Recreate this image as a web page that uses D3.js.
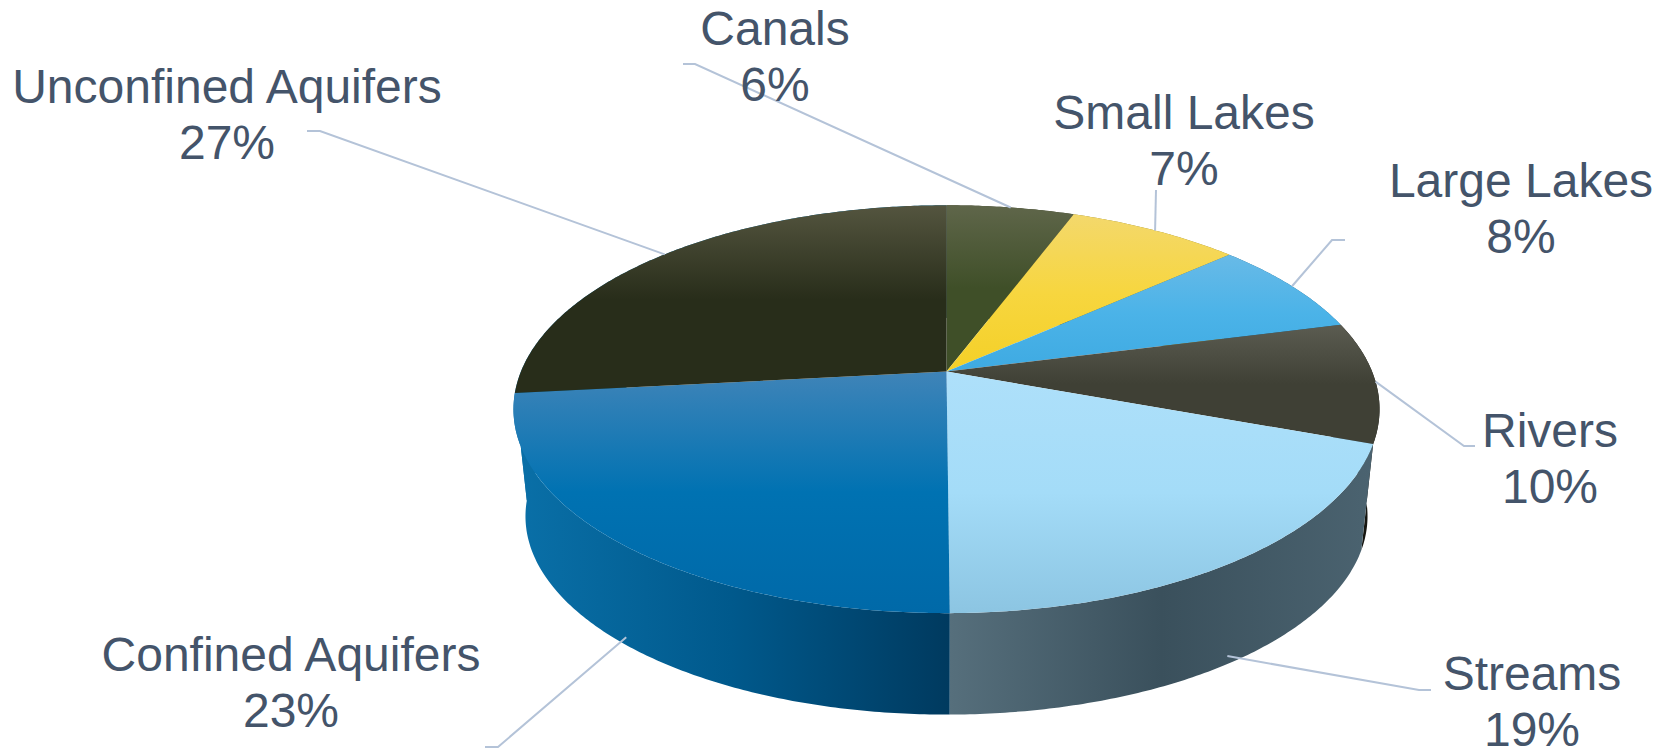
<!DOCTYPE html>
<html>
<head>
<meta charset="utf-8">
<script src="https://cdn.jsdelivr.net/npm/d3@7"></script>
<style>
html, body { margin: 0; padding: 0; background: #fff; }
svg { display: block; }
text { font-family: "Liberation Sans", Arial, sans-serif; font-size: 48px; fill: #44546a; text-anchor: middle; }
</style>
</head>
<body>
<script>
var categories = ["Canals", "Small Lakes", "Large Lakes", "Rivers", "Streams", "Confined Aquifers", "Unconfined Aquifers"];
// what the labels say
var percents = [6, 7, 8, 10, 19, 23, 27];
// slice sizes as measured from the edges in the picture
var shares = [5.7, 7.7, 7.6, 9.6, 19.3, 23.4, 26.7];

// top face gradient stops, one list per slice
var topColors = [
    ["#5f664a", "#3f4f28", "#3f4f28"],
    ["#f3d86c", "#f7d63f", "#f4d027"],
    ["#68bae7", "#4bb3e8", "#3eaae2"],
    ["#5b5c51", "#3f4035", "#3f4035"],
    ["#aee0fa", "#a4dcf8", "#8cc5e2"],
    ["#3f84b8", "#0072b2", "#0069a8"],
    ["#54553f", "#282d1a", "#282d1a"]
];
// the last one is the hidden back wall, it shows at the left silhouette
var wallColors = [
    ["#3a3f28", "#3a3f28"],
    ["#8a7a20", "#8a7a20"],
    ["#20648a", "#20648a"],
    ["#0c0c08", "#1a1a14"],
    ["#566f7c", "#3a505c", "#4b6370"],
    ["#0a70a8", "#00598c", "#003a5f"],
    ["#0a70a8", "#0a70a8"]
];

// label centre and first baseline
var labelX = [775, 1184, 1521, 1550, 1532, 291, 227];
var labelY = [45, 129, 197, 447, 690, 671, 103];
// leader tail and elbow
var leaderEnd = [[683, 64, 695, 64], [1156, 190, 1156, 190], [1345, 240, 1332, 240], [1475, 446, 1464, 446], [1431, 690, 1419, 690], [485, 747, 498, 747], [307, 131, 320, 131]];

var width = 1660, height = 751;
var cx = 946.5;
// perspective of the two circles, v is towards the viewer
var persp = 0.1844;
var topDisc = { a: 425.6, b: 197, y0: 371.6 };
var botDisc = { a: 413.8, b: 191.5, y0: 479.8 };

function project(disc, angle) {
    var u = Math.sin(angle), v = -Math.cos(angle);
    var w = 1 - persp * v;
    return [cx + disc.a * u / w, disc.y0 + disc.b * v / w];
}

function arcPoints(disc, a0, a1) {
    var n = Math.max(2, Math.ceil((a1 - a0) / 0.01));
    return d3.range(n + 1).map(function (i) {
        return project(disc, a0 + (a1 - a0) * i / n);
    });
}

var svg = d3.select("body").append("svg")
    .attr("width", width)
    .attr("height", height);
var defs = svg.append("defs");

var line = d3.line().curve(d3.curveLinear);
var pie = d3.pie().sort(null).value(function (d) { return d; });
var slices = pie(shares);

function addGradient(id, colors, horizontal) {
    var g = defs.append("linearGradient")
        .attr("id", id)
        .attr("x1", 0).attr("y1", 0)
        .attr("x2", horizontal ? 1 : 0).attr("y2", horizontal ? 0 : 1);
    g.selectAll("stop").data(colors).enter().append("stop")
        .attr("offset", function (d, i) { return i / (colors.length - 1); })
        .attr("stop-color", function (d) { return d; });
}
slices.forEach(function (s, i) {
    addGradient("top" + i, topColors[i], false);
    addGradient("wall" + i, wallColors[i], true);
});

// walls, the unconfined one goes first so the front ones land on top
var wallOrder = [6, 0, 1, 2, 3, 4, 5];
svg.append("g").selectAll("path")
    .data(wallOrder)
    .enter().append("path")
    .attr("d", function (i) {
        var s = slices[i];
        var upper = arcPoints(topDisc, s.startAngle, s.endAngle);
        var lower = arcPoints(botDisc, s.startAngle, s.endAngle).reverse();
        return line(upper.concat(lower)) + "Z";
    })
    .attr("fill", function (i) { return "url(#wall" + i + ")"; });

// top faces
svg.append("g").selectAll("path")
    .data(slices)
    .enter().append("path")
    .attr("d", function (s) {
        var pts = arcPoints(topDisc, s.startAngle, s.endAngle);
        pts.unshift([cx, topDisc.y0]);
        return line(pts) + "Z";
    })
    .attr("fill", function (s, i) { return "url(#top" + i + ")"; });

// leaders, front slices point at the wall
svg.append("g").selectAll("path")
    .data(slices)
    .enter().append("path")
    .attr("d", function (s, i) {
        var mid = (s.startAngle + s.endAngle) / 2;
        var p = project(topDisc, mid);
        if (i === 4 || i === 5) {
            var q = project(botDisc, mid);
            p = [p[0] + (q[0] - p[0]) * 0.92, p[1] + (q[1] - p[1]) * 0.92];
        }
        var e = leaderEnd[i];
        return line([[e[0], e[1]], [e[2], e[3]], p]);
    })
    .attr("fill", "none")
    .attr("stroke", "#b4c3d8")
    .attr("stroke-width", 2);

var labels = svg.append("g").selectAll("text")
    .data(categories)
    .enter().append("text")
    .attr("x", function (d, i) { return labelX[i]; })
    .attr("y", function (d, i) { return labelY[i]; });
labels.append("tspan").text(function (d) { return d; });
labels.append("tspan")
    .attr("x", function (d, i) { return labelX[i]; })
    .attr("dy", 56)
    .text(function (d, i) { return percents[i] + "%"; });
</script>
</body>
</html>
